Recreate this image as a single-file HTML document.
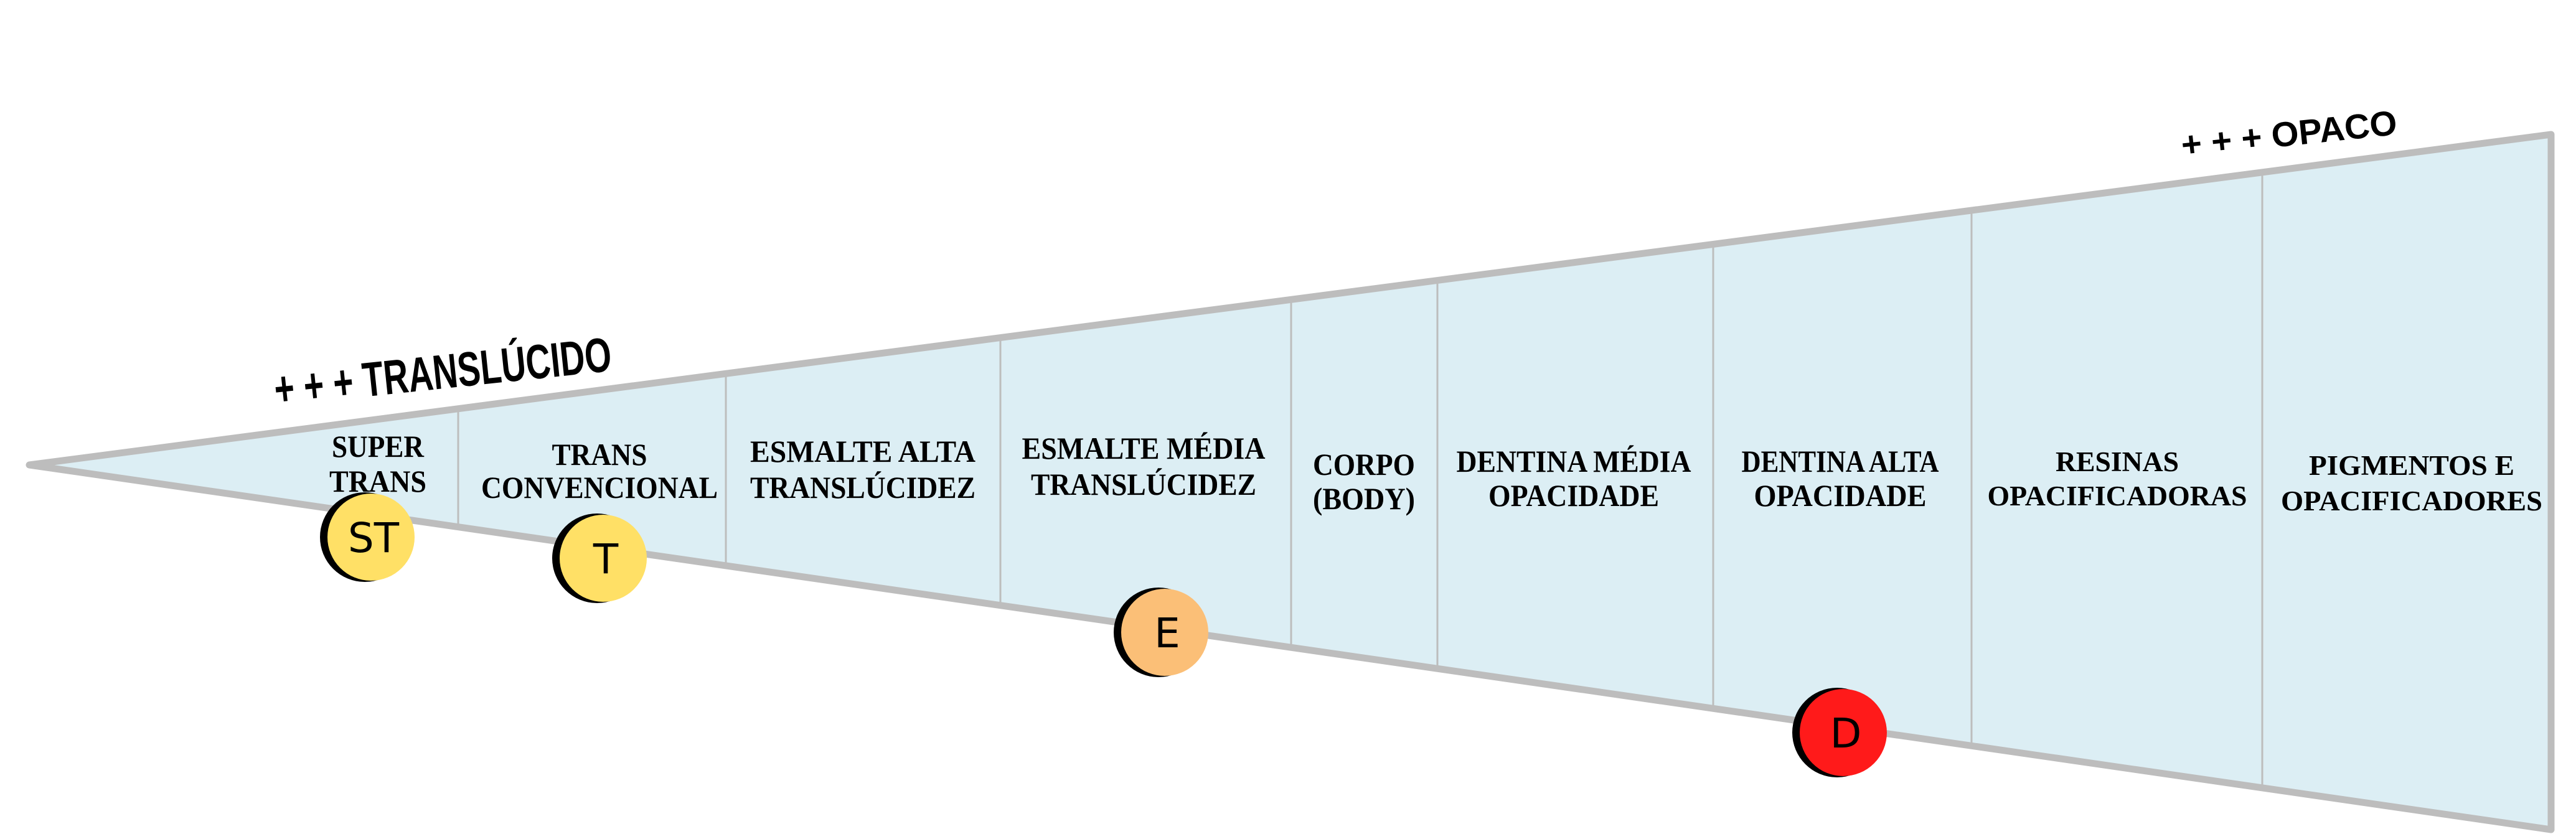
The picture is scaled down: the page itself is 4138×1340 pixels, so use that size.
<!DOCTYPE html>
<html><head><meta charset="utf-8"><style>html,body{margin:0;padding:0;background:#fff}svg{display:block}</style></head>
<body>
<svg width="4138" height="1340" viewBox="0 0 4138 1340" xmlns="http://www.w3.org/2000/svg">
<polygon points="47,747 4098,216 4098,1333" fill="#dceef4" stroke="#bdbdbd" stroke-width="11" stroke-linejoin="round"/>
<g stroke="#bdbdbd" stroke-width="3">
<line x1="736" y1="657" x2="736" y2="847"/>
<line x1="1166" y1="600" x2="1166" y2="909"/>
<line x1="1607" y1="542" x2="1607" y2="973"/>
<line x1="2074" y1="481" x2="2074" y2="1040"/>
<line x1="2309" y1="450" x2="2309" y2="1074"/>
<line x1="2752" y1="392" x2="2752" y2="1138"/>
<line x1="3167" y1="338" x2="3167" y2="1198"/>
<line x1="3634" y1="277" x2="3634" y2="1266"/>
</g>
<g font-family="Liberation Serif, serif" font-weight="bold" font-size="50" text-anchor="middle" fill="#000">
<text x="607" y="734" textLength="148" lengthAdjust="spacingAndGlyphs">SUPER</text>
<text x="607" y="790" textLength="156" lengthAdjust="spacingAndGlyphs">TRANS</text>
<text x="963" y="747" textLength="153" lengthAdjust="spacingAndGlyphs">TRANS</text>
<text x="963" y="800" textLength="380" lengthAdjust="spacingAndGlyphs">CONVENCIONAL</text>
<text x="1386" y="742" textLength="362" lengthAdjust="spacingAndGlyphs">ESMALTE ALTA</text>
<text x="1386" y="800" textLength="362" lengthAdjust="spacingAndGlyphs">TRANSLÚCIDEZ</text>
<text x="1837" y="737" textLength="391" lengthAdjust="spacingAndGlyphs">ESMALTE MÉDIA</text>
<text x="1837" y="795" textLength="362" lengthAdjust="spacingAndGlyphs">TRANSLÚCIDEZ</text>
<text x="2191" y="763" textLength="164" lengthAdjust="spacingAndGlyphs">CORPO</text>
<text x="2191" y="818" textLength="164" lengthAdjust="spacingAndGlyphs">(BODY)</text>
<text x="2528" y="758" textLength="377" lengthAdjust="spacingAndGlyphs">DENTINA MÉDIA</text>
<text x="2528" y="813" textLength="274" lengthAdjust="spacingAndGlyphs">OPACIDADE</text>
<text x="2956" y="758" textLength="317" lengthAdjust="spacingAndGlyphs">DENTINA ALTA</text>
<text x="2956" y="813" textLength="277" lengthAdjust="spacingAndGlyphs">OPACIDADE</text>
</g>
<g font-family="Liberation Serif, serif" font-weight="bold" font-size="45" text-anchor="middle" fill="#000">
<text x="3401" y="757" textLength="198" lengthAdjust="spacingAndGlyphs">RESINAS</text>
<text x="3401" y="812" textLength="417" lengthAdjust="spacingAndGlyphs">OPACIFICADORAS</text>
<text x="3874" y="763" textLength="330" lengthAdjust="spacingAndGlyphs">PIGMENTOS E</text>
<text x="3874" y="820" textLength="420" lengthAdjust="spacingAndGlyphs">OPACIFICADORES</text>
</g>
<text x="714" y="624" transform="rotate(-6 714 624)" font-family="Liberation Sans, sans-serif" font-weight="bold" font-size="78" text-anchor="middle" textLength="544" lengthAdjust="spacingAndGlyphs">+ + + TRANSLÚCIDO</text>
<text x="3679" y="234" transform="rotate(-6 3679 234)" font-family="Liberation Sans, sans-serif" font-weight="bold" font-size="56" text-anchor="middle" textLength="348" lengthAdjust="spacingAndGlyphs">+ + + OPACO</text>
<g font-family="DejaVu Sans, Liberation Sans, sans-serif" font-size="66" text-anchor="middle">
<circle cx="586" cy="863" r="72" fill="#000"/><circle cx="596" cy="863" r="70" fill="#ffe066"/>
<text x="600" y="887">ST</text>
<circle cx="959" cy="897" r="72" fill="#000"/><circle cx="969" cy="897" r="70" fill="#ffe066"/>
<text x="973" y="921">T</text>
<circle cx="1861" cy="1016" r="72" fill="#000"/><circle cx="1871" cy="1016" r="70" fill="#fbbf77"/>
<text x="1875" y="1040">E</text>
<circle cx="2951" cy="1177" r="72" fill="#000"/><circle cx="2961" cy="1177" r="70" fill="#ff1a1a"/>
<text x="2965" y="1201">D</text>
</g>
</svg>
</body></html>
